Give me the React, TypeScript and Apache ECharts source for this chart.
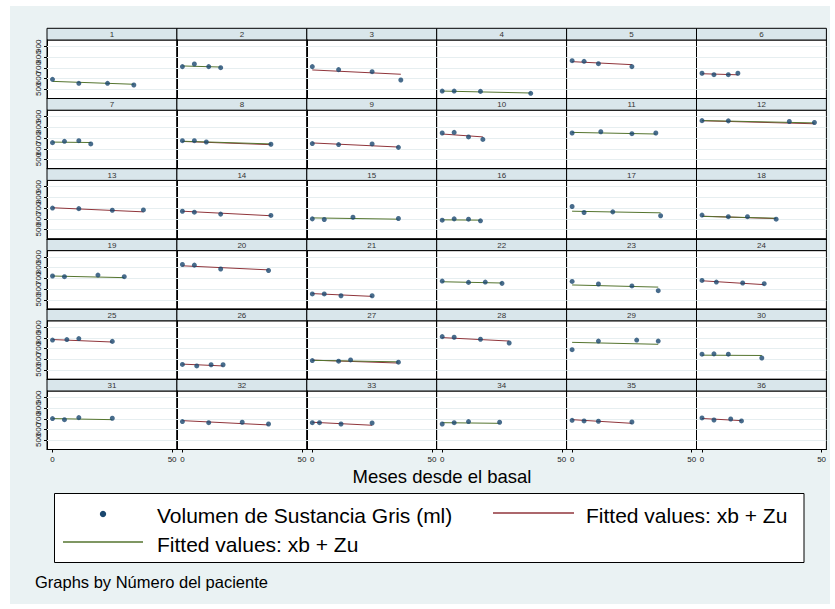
import React, { useEffect, useRef } from "react";
import * as echarts from "echarts";

// ---- data ----
const patientIds = [
  "1","2","3","4","5","6","7","8","9","10","11","12",
  "13","14","15","16","17","18","19","20","21","22","23","24",
  "25","26","27","28","29","30","31","32","33","34","35","36",
];

const months: number[][] = [
  [0, 11, 23, 34], [0, 5, 11, 16], [0, 11, 25, 37], [0, 5, 16, 37], [0, 5, 11, 25], [0, 5, 11, 15],
  [0, 5, 11, 16], [0, 5, 10, 37], [0, 11, 25, 36], [0, 5, 11, 17], [0, 12, 25, 35], [0, 11, 36.5, 47],
  [0, 11, 25, 38], [0, 5, 16, 37], [0, 5, 17, 36], [0, 5, 11, 16], [0, 5, 17, 37], [0, 11, 19, 31],
  [0, 5, 19, 30], [0, 5, 16, 36], [0, 5, 12, 25], [0, 11, 18, 25], [0, 11, 25, 36], [0, 6, 17, 26],
  [0, 6, 11, 25], [0, 6, 12, 17], [0, 11, 16, 36], [0, 5, 16, 28], [0, 11, 27, 36], [0, 5, 11, 25],
  [0, 5, 11, 25], [0, 11, 25, 36], [0, 3, 12, 25], [0, 5, 11, 24], [0, 5, 11, 25], [0, 5, 12, 16.5],
];

const volumes: number[][] = [
  [593, 556, 556, 540], [711, 735, 711, 701], [711, 683, 664, 587], [484, 484, 481, 463], [766, 760, 738, 711], [649, 636, 636, 649],
  [657, 669, 675, 645], [675, 675, 663, 642], [648, 639, 645, 613], [746, 752, 710, 687], [746, 758, 740, 746], [861, 859, 853, 844],
  [701, 696, 681, 684], [672, 663, 645, 633], [601, 595, 616, 604], [589, 601, 598, 583], [716, 660, 666, 630], [636, 621, 621, 598],
  [722, 716, 731, 716], [829, 823, 787, 773], [556, 556, 539, 539], [675, 663, 666, 654], [672, 648, 630, 586], [681, 666, 657, 651],
  [779, 784, 793, 767], [553, 539, 550, 550], [589, 583, 595, 574], [811, 805, 787, 752], [690, 770, 779, 770], [648, 651, 648, 613],
  [702, 692, 711, 705], [674, 664, 668, 652], [664, 664, 652, 661], [652, 664, 674, 668], [686, 680, 677, 670], [708, 689, 698, 680],
];

// fitted values (xb + Zu) at first and last visit; null = not drawn in that colour
const fitRed: ([number, number] | null)[] = [
  null, null, [680, 640], null, [757, 729], [645, 635],
  null, [668, 638], [654, 616], [737, 710], null, [860, 832],
  [704, 666], [672, 630], null, null, null, [626, 603],
  null, [817, 779], [559, 533], null, null, [678, 642],
  [784, 761], [556, 539], [593, 566], [802, 770], null, null,
  null, [683, 643], [668, 640], null, [692, 658], [703, 683],
];
const fitGreen: ([number, number] | null)[] = [
  [574, 547], [717, 707], null, [484, 466], null, null,
  [662, 658], [670, 645], null, null, [752, 737], [862, 840],
  null, null, [610, 598], [592, 589], [672, 657], [624, 607],
  [722, 707], null, null, [669, 657], [639, 619], null,
  null, null, [591, 577], null, [758, 740], [639, 636],
  [702, 692], null, null, [664, 658], null, null,
];

const yTicks = [500, 600, 700, 800, 900];
const yTicksOdd = [500, 700, 900];
const yTicksEven = [600, 800];
const xTicks = [0, 50];

const legendPoints = "Volumen de Sustancia Gris (ml)";
const legendFit = "Fitted values: xb + Zu";
const xTitle = "Meses desde el basal";
const note = "Graphs by Número del paciente";

// ---- style / layout ----
const NAVY = "#1a476f";
const MAROON = "#90353b";
const GREEN = "#55752f";
const FONT = "'Liberation Sans', Arial, sans-serif";
const COL0 = 47;
const COLW = 129.9;
const ROW0 = 28.3;
const ROWH = 70.2;
const HEADH = 11.7;
const PLOTH = 58.5;
const YMIN = 415;
const YMAX = 958;

export default function App() {
  const ref = useRef<HTMLDivElement>(null);
  useEffect(() => {
    document.body.style.margin = "0";
    if (!ref.current) return;
    const chart = echarts.init(ref.current, undefined, { renderer: "svg" });

    const grids: any[] = [];
    const xAxes: any[] = [];
    const yAxes: any[] = [];
    const extraY: any[] = [];
    const series: any[] = [];
    const graphics: any[] = [];

    const yLabel = (vals: number[]) => ({
      show: true, customValues: vals, fontSize: 8, color: "#222", fontFamily: FONT, rotate: 90, margin: 5,
      hideOverlap: false, showMinLabel: true, showMaxLabel: true,
    });

    patientIds.forEach((pid, i) => {
      const r = Math.floor(i / 6);
      const c = i % 6;
      const left = COL0 + COLW * c;
      const htop = ROW0 + ROWH * r;
      const top = htop + HEADH;
      const bottomRow = r === 5;
      const leftCol = c === 0;
      grids.push({
        left, top, width: COLW, height: PLOTH,
        show: true, backgroundColor: "#ffffff", borderColor: "#000", borderWidth: 1,
        containLabel: false, outerBoundsMode: "none",
      });
      xAxes.push({
        type: "value", gridIndex: i, min: -2.3, max: 52,
        axisLine: { show: true, onZero: false, lineStyle: { color: "#000", width: 1 } },
        axisTick: { show: bottomRow, customValues: xTicks, length: 3, lineStyle: { color: "#000" } },
        axisLabel: {
          show: bottomRow, customValues: xTicks, fontSize: 8, color: "#222", fontFamily: FONT, margin: 6,
          hideOverlap: false, showMinLabel: true, showMaxLabel: true,
        },
        splitLine: { show: false },
      });
      yAxes.push({
        type: "value", gridIndex: i, min: YMIN, max: YMAX,
        axisLine: { show: true, onZero: false, lineStyle: { color: "#000", width: 1 } },
        axisTick: { show: leftCol, customValues: yTicks, length: 3, lineStyle: { color: "#000" } },
        axisLabel: leftCol ? yLabel(yTicksOdd) : { show: false },
        splitLine: { show: false },
      });
      if (leftCol) {
        extraY.push({
          type: "value", gridIndex: i, min: YMIN, max: YMAX, position: "left", offset: 0,
          axisLine: { show: false }, axisTick: { show: false },
          axisLabel: yLabel(yTicksEven),
          splitLine: { show: false },
        });
      }
      series.push({
        type: "scatter", xAxisIndex: i, yAxisIndex: i, name: legendPoints,
        data: months[i].map((m, k) => [m, volumes[i][k]]),
        symbol: "circle", symbolSize: 5, itemStyle: { color: NAVY }, z: 5,
        markLine: {
          silent: true, symbol: "none", label: { show: false },
          lineStyle: { color: "#e6eef0", width: 1, type: "solid" },
          data: yTicks.map((v) => ({ yAxis: v })),
          z: 1,
        },
      });
      const xs = months[i];
      const x0 = xs[0];
      const x1 = xs[xs.length - 1];
      const fr = fitRed[i];
      if (fr) {
        series.push({
          type: "line", xAxisIndex: i, yAxisIndex: i, name: legendFit,
          data: [[x0, fr[0]], [x1, fr[1]]], showSymbol: false, symbol: "none",
          lineStyle: { color: MAROON, width: 1 }, z: 3,
        });
      }
      const fg = fitGreen[i];
      if (fg) {
        series.push({
          type: "line", xAxisIndex: i, yAxisIndex: i, name: legendFit + " ",
          data: [[x0, fg[0]], [x1, fg[1]]], showSymbol: false, symbol: "none",
          lineStyle: { color: GREEN, width: 1 }, z: 4,
        });
      }
      graphics.push({
        type: "rect", shape: { x: left, y: htop, width: COLW, height: HEADH },
        style: { fill: "#d9e6eb", stroke: "#000", lineWidth: 1 },
      });
      graphics.push({
        type: "text", x: left + COLW / 2, y: htop + HEADH / 2 + 0.5,
        style: { text: pid, fontSize: 8, fontFamily: FONT, fill: "#333", align: "center", verticalAlign: "middle", textAlign: "center", textVerticalAlign: "middle" },
      });
    });

    // title + legend + note
    const txt = (text: string, x: number, y: number, size: number, align = "left") => ({
      type: "text", x, y,
      style: { text, fontSize: size, fontFamily: FONT, fill: "#000", align, verticalAlign: "middle", textAlign: align, textVerticalAlign: "middle" },
    });
    graphics.push(txt(xTitle, 442, 476, 18.5, "center"));
    graphics.push({
      type: "rect", shape: { x: 54.5, y: 493.5, width: 749.5, height: 69 },
      style: { fill: "#fff", stroke: "#000", lineWidth: 1 },
    });
    graphics.push({ type: "circle", shape: { cx: 103, cy: 514, r: 3.2 }, style: { fill: NAVY } });
    graphics.push(txt(legendPoints, 157, 515, 21));
    graphics.push({ type: "line", shape: { x1: 493, y1: 513, x2: 574, y2: 513 }, style: { stroke: MAROON, lineWidth: 1.5 } });
    graphics.push(txt(legendFit, 586, 515, 21));
    graphics.push({ type: "line", shape: { x1: 63, y1: 542, x2: 143, y2: 542 }, style: { stroke: GREEN, lineWidth: 1.5 } });
    graphics.push(txt(legendFit, 157, 544, 21));
    graphics.push(txt(note, 35, 582, 16.5));

    chart.setOption({
      animation: false,
      backgroundColor: "transparent",
      grid: grids,
      xAxis: xAxes,
      yAxis: yAxes.concat(extraY),
      series,
      graphic: { elements: graphics },
    });
    return () => chart.dispose();
  }, []);

  return (
    <div style={{ position: "relative", width: 835, height: 609, background: "#ffffff" }}>
      <div style={{ position: "absolute", left: 10, top: 6, width: 820, height: 598, background: "#eaf2f3" }} />
      <div ref={ref} style={{ position: "absolute", left: 0, top: 0, width: 835, height: 609 }} />
    </div>
  );
}
